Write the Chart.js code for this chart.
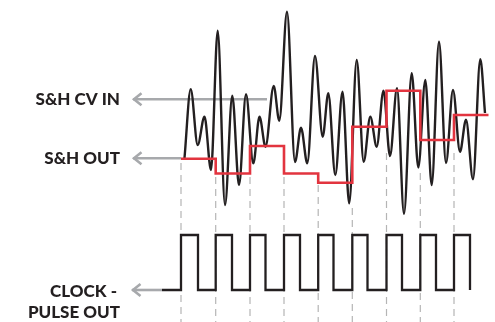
<!DOCTYPE html>
<html>
<head>
<meta charset="utf-8">
<script src="https://cdn.jsdelivr.net/npm/chart.js@4.4.0/dist/chart.umd.min.js"></script>
<style>
  html, body { margin: 0; padding: 0; background: #fff; }
  canvas { display: block; }
</style>
</head>
<body>
<canvas id="shChart" width="495" height="322"></canvas>
<script>
// Sample & hold timing diagram.
// x = time, y = level, both in picture units (y grows downward, see reverse axis)

// S&H CV IN: peaks and troughs of the input waveform
const cvTime  = [184.5, 190.7, 197.7, 204.5, 211, 217.7, 225, 232.3, 239, 246,
                 253.3, 259.5, 265.5, 273.7, 279.3, 287, 295, 301, 307.3, 315,
                 322.7, 328.3, 335.3, 342.5, 349.2, 356.7, 363.7, 370.3, 376.7, 383.5,
                 390, 397, 404, 411.7, 418.3, 425.3, 431.7, 439, 446, 453,
                 460, 466, 473, 480.3, 485];
const cvLevel = [158, 89.3, 145, 116.7, 170, 30.7, 205, 95.7, 185, 94.3,
                 163.3, 116.7, 146.7, 86, 120.7, 11.7, 162, 127.7, 163.3, 56,
                 136.7, 93.3, 175, 91.7, 203.3, 60, 161.7, 116.7, 146.7, 90.7,
                 156, 88.3, 213.7, 73.3, 167.5, 80, 185, 41.7, 163, 90,
                 151.7, 119.7, 179.3, 59.3, 113];

// clock rising edges = sample moments; S&H OUT holds each sampled level
const sampleTimes = [181, 215.7, 250, 284, 318.2, 352.3, 386.5, 420.3, 454];
const holdLevels  = [158.7, 173.5, 146, 173.5, 182.7, 126.7, 90.7, 140, 115];
const holdEnd = 488.5;

// CLOCK - PULSE OUT
const clockStart = 162;
const clockFalls = [198, 232, 265.5, 300, 333.5, 367.5, 402, 436, 470];
const clockLow = 290;
const clockHigh = 235;

// dashed guides below each sample moment
const guideTops = [163, 177, 177, 177, 185, 208, 153, 173, 153];
const guideBottom = 322;

// label arrows
const arrowLevels = [99.3, 158.3, 290];
const arrowTips   = [133, 133, 132];
const arrowEnds   = [267, 181, 162];

// label text
const labelLines = ['S&H CV IN', 'S&H OUT', 'CLOCK -', 'PULSE OUT'];
const labelRight = [120, 120, 117, 120];
const labelMid   = [99, 158.3, 291, 312];

const ink = '#231f20';
const red = '#e2343f';
const arrowGray = '#a7a9ac';
const guideGray = '#b5b5b5';

const guideSets = sampleTimes.map((t, i) => ({
  data: [{ x: t, y: guideTops[i] }, { x: t, y: guideBottom }],
  borderColor: guideGray,
  borderWidth: 1.2,
  borderDash: [7, 5],
  order: 10
}));

const arrowSets = arrowLevels.map((lv, i) => ({
  data: [{ x: arrowTips[i], y: lv }, { x: arrowEnds[i], y: lv }],
  borderColor: arrowGray,
  borderWidth: 2.6,
  order: 8
}));

const cvSet = {
  data: cvTime.map((t, i) => ({ x: t, y: cvLevel[i] })),
  borderColor: ink,
  borderWidth: 2.4,
  cubicInterpolationMode: 'monotone',
  order: 3
};

const holdPoints = sampleTimes.map((t, i) => ({ x: t, y: holdLevels[i] }));
holdPoints.push({ x: holdEnd, y: holdLevels[holdLevels.length - 1] });
const holdSet = {
  data: holdPoints,
  borderColor: red,
  borderWidth: 2.6,
  stepped: 'before',
  order: 1
};

const clockPoints = [{ x: clockStart, y: clockLow }];
sampleTimes.forEach((t, i) => {
  clockPoints.push({ x: t, y: clockHigh });
  clockPoints.push({ x: clockFalls[i], y: clockLow });
});
const clockSet = {
  data: clockPoints,
  borderColor: ink,
  borderWidth: 2.3,
  stepped: 'before',
  order: 2
};

// arrow heads and the text labels
const annotate = {
  id: 'annotate',
  afterDatasetsDraw(chart) {
    const { ctx, scales: { x, y } } = chart;
    ctx.save();
    ctx.strokeStyle = arrowGray;
    ctx.lineWidth = 2.6;
    ctx.lineJoin = 'miter';
    arrowLevels.forEach((lv, i) => {
      const px = x.getPixelForValue(arrowTips[i]);
      const py = y.getPixelForValue(lv);
      ctx.beginPath();
      ctx.moveTo(px + 8.5, py - 6);
      ctx.lineTo(px + 1, py);
      ctx.lineTo(px + 8.5, py + 6);
      ctx.stroke();
    });
    ctx.fillStyle = ink;
    ctx.font = '900 17px Lato';
    ctx.textAlign = 'right';
    ctx.textBaseline = 'alphabetic';
    labelLines.forEach((txt, i) => {
      ctx.fillText(txt, x.getPixelForValue(labelRight[i]), y.getPixelForValue(labelMid[i]) + 6);
    });
    ctx.restore();
  }
};

new Chart(document.getElementById('shChart'), {
  type: 'line',
  data: { datasets: [...guideSets, ...arrowSets, cvSet, holdSet, clockSet] },
  options: {
    responsive: false,
    animation: false,
    events: [],
    layout: { padding: 0 },
    elements: { point: { radius: 0 } },
    plugins: { legend: { display: false }, tooltip: { enabled: false } },
    scales: {
      x: { type: 'linear', min: 0, max: 495, display: false },
      y: { type: 'linear', min: 0, max: 322, reverse: true, display: false }
    }
  },
  plugins: [annotate]
});
</script>
</body>
</html>
